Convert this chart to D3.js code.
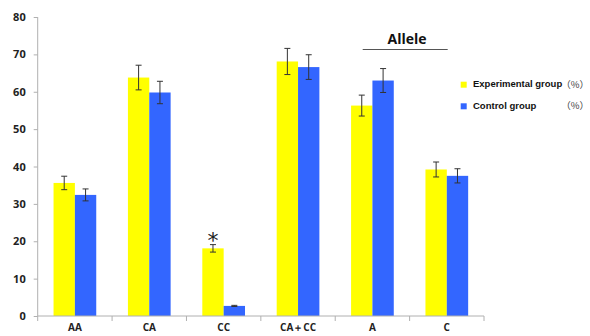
<!DOCTYPE html>
<html><head><meta charset="utf-8">
<script src="https://cdn.jsdelivr.net/npm/d3@7"></script>
<style>body{margin:0;background:#fff}svg{display:block}</style>
</head><body><svg id="c" width="590" height="336"></svg>
<script>
const categories = ["AA","CA","CC","CA＋CC","A","C"];
const seriesNames = ["Experimental group","Control group"];
const experimental = [35.6, 63.8, 18.1, 68.1, 56.3, 39.2];
const control = [32.4, 59.8, 2.7, 66.6, 63.0, 37.5];
const experimentalErr = [1.8, 3.3, 1.0, 3.5, 2.8, 2.0];
const controlErr = [1.6, 3.0, 0.15, 3.3, 3.2, 1.9];
const yTicks = [0,10,20,30,40,50,60,70,80];
const colors = ["#ffff00","#3366ff"];

(function(){
const svg = d3.select("#c");
const mLeft = 37.7, mRight = 484, mTop = 17, mBottom = 316;
const x = d3.scaleBand().domain(categories).range([mLeft, mRight]).paddingInner(0).paddingOuter(0);
const inner = d3.scaleBand().domain([0,1]).range([0, 42.7]);
const y = d3.scaleLinear().domain([0,80]).range([mBottom, mTop]);

const data = categories.map((c,i)=>({c, vals:[
  {s:0, v:experimental[i], e:experimentalErr[i]},
  {s:1, v:control[i], e:controlErr[i]}]}));

const g = svg.append("g");
const grp = g.selectAll("g.grp").data(data).join("g")
  .attr("transform", d => `translate(${x(d.c) + (x.bandwidth()-42.7)/2},0)`);
grp.selectAll("rect").data(d=>d.vals).join("rect")
  .attr("x", d=>inner(d.s)).attr("width", inner.bandwidth())
  .attr("y", d=>y(d.v)).attr("height", d=>y(0)-y(d.v))
  .attr("fill", d=>colors[d.s]);
const eb = grp.selectAll("g.eb").data(d=>d.vals).join("g").attr("class","eb")
  .attr("stroke","#333").attr("stroke-width",1);
const cx = d=>inner(d.s)+inner.bandwidth()/2;
eb.append("line").attr("x1",cx).attr("x2",cx)
  .attr("y1",d=>y(d.v+d.e)).attr("y2",d=>y(d.v-d.e));
eb.append("line").attr("x1",d=>cx(d)-3).attr("x2",d=>cx(d)+3)
  .attr("y1",d=>y(d.v+d.e)).attr("y2",d=>y(d.v+d.e));
eb.append("line").attr("x1",d=>cx(d)-3).attr("x2",d=>cx(d)+3)
  .attr("y1",d=>y(d.v-d.e)).attr("y2",d=>y(d.v-d.e));

const yAxis = svg.append("g").attr("transform",`translate(${mLeft},0)`)
  .call(d3.axisLeft(y).tickValues(yTicks).tickSize(4).tickPadding(8));
const xAxis = svg.append("g").attr("transform",`translate(0,${mBottom})`)
  .call(d3.axisBottom(x).tickSize(0).tickPadding(8));
xAxis.selectAll(".tick line").remove();
const bounds = categories.map(c=>x(c)).concat([mRight]);
xAxis.selectAll("line.bt").data(bounds).join("line").attr("class","bt")
  .attr("x1",d=>d).attr("x2",d=>d).attr("y1",0).attr("y2",5).attr("stroke","#b0b0b0");
yAxis.select(".domain").attr("stroke","#b0b0b0").attr("d", `M0,${mTop}V${mBottom}`);
xAxis.select(".domain").attr("stroke","#b0b0b0").attr("d", `M${mLeft},0H${mRight}`);
[yAxis,xAxis].forEach(a=>{
  a.selectAll(".tick line").attr("stroke","#b0b0b0");
  a.selectAll("text").attr("font-family","'Open Sans', 'Liberation Sans', sans-serif")
    .attr("font-weight","bold").attr("font-size",11).attr("fill","#222");
});
xAxis.selectAll("text").attr("font-size",10).attr("dy","0.71em");

svg.append("text").attr("x", x("CC") + (x.bandwidth()-42.7)/2 + inner.bandwidth()/2)
  .attr("y", y(experimental[2]+experimentalErr[2]) + 3.5).attr("text-anchor","middle")
  .attr("font-family","'DejaVu Sans', sans-serif").attr("font-size",22).attr("fill","#222").text("*");

svg.append("text").attr("x",407).attr("y",44).attr("text-anchor","middle")
  .attr("font-family","'Open Sans', 'Liberation Sans', sans-serif").attr("font-weight","bold")
  .attr("font-size",14).attr("fill","#111").text("Allele");
svg.append("line").attr("x1",362.7).attr("x2",447.7).attr("y1",49.5).attr("y2",49.5)
  .attr("stroke","#555").attr("stroke-width",1);

const leg = svg.append("g");
seriesNames.forEach((n,i)=>{
  const yy = 81.7 + i*21.6;
  leg.append("rect").attr("x",460.7).attr("y",yy).attr("width",6).attr("height",6).attr("fill",colors[i]);
  leg.append("text").attr("x",473).attr("y",yy+5.5).attr("font-family","'Liberation Sans', Arial, sans-serif")
    .attr("font-weight","bold").attr("font-size",9.5).attr("fill","#111").text(n);
  leg.append("text").attr("x",589).attr("y",yy+6).attr("text-anchor","end")
    .attr("font-family","'Noto Sans CJK SC', sans-serif")
    .attr("font-size",9.5).attr("fill","#444").text("（%）");
});
})();
</script></body></html>
